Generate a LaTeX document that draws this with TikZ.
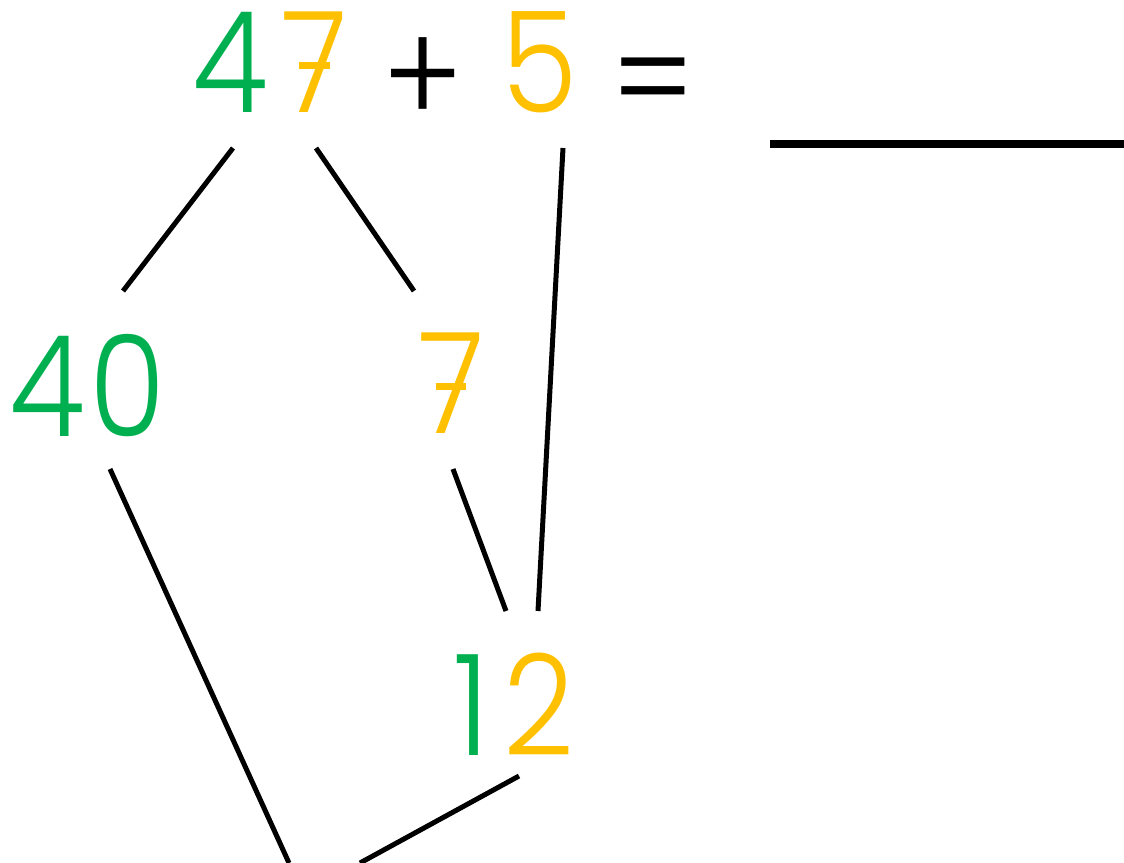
\documentclass[tikz,border=0pt]{standalone}
\usepackage{fontspec}
\setmainfont{Poppins}[UprightFont={* Light},FakeStretch=0.88]
\usepackage{xcolor}
\definecolor{sumgreen}{HTML}{00B050}
\definecolor{sumyellow}{HTML}{FFC000}
% seven with a bar through it
\newcommand{\barseven}{\ooalign{7\cr\hidewidth\rule[0.31em]{0.22em}{0.055em}\hidewidth\cr}}

\begin{document}
\begin{tikzpicture}[
  x=0.2mm, y=-0.2mm,
  num/.style={inner sep=0pt,anchor=base,font=\fontsize{80}{80}\selectfont},
  link/.style={line width=1mm},
  blank/.style={line width=1.6mm}
]
\useasboundingbox (0,0) rectangle (1124,863);
% top row
\node[num] (n47) at (270,113) {\textcolor{sumgreen}{4}\kern0.1em\textcolor{sumyellow}{\barseven}};
\node[num] (plus) at (423,126) {+};
\node[num,text=sumyellow] (n5) at (540,113) {5};
\node[num] (eq) at (653,129) {=};
\coordinate (ansL) at (770,144);
\coordinate (ansR) at (1124,144);
% split parts
\node[num,text=sumgreen] (n40) at (88,436) {4\kern0.03em0};
\node[num,text=sumyellow] (n7) at (451,434) {\barseven};
\node[num] (n12) at (514,755) {\textcolor{sumgreen}{1}\kern0.1em\textcolor{sumyellow}{2}};
\coordinate (sumL) at (289,863);
\coordinate (sumR) at (360,863);
% lines
\draw[blank] (ansL) -- (ansR);
\draw[link] ([shift={(-37,35)}]n47.base) -- ([shift={(35,-145)}]n40.base);
\draw[link] ([shift={(46,35)}]n47.base) -- ([shift={(-37,-143)}]n7.base);
\draw[link] ([shift={(23,35)}]n5.base) -- ([shift={(24,-144)}]n12.base);
\draw[link] ([shift={(2,35)}]n7.base) -- ([shift={(-8,-144)}]n12.base);
\draw[link] ([shift={(22,33)}]n40.base) -- (sumL);
\draw[link] ([shift={(5,21)}]n12.base) -- (sumR);
\end{tikzpicture}
\end{document}
